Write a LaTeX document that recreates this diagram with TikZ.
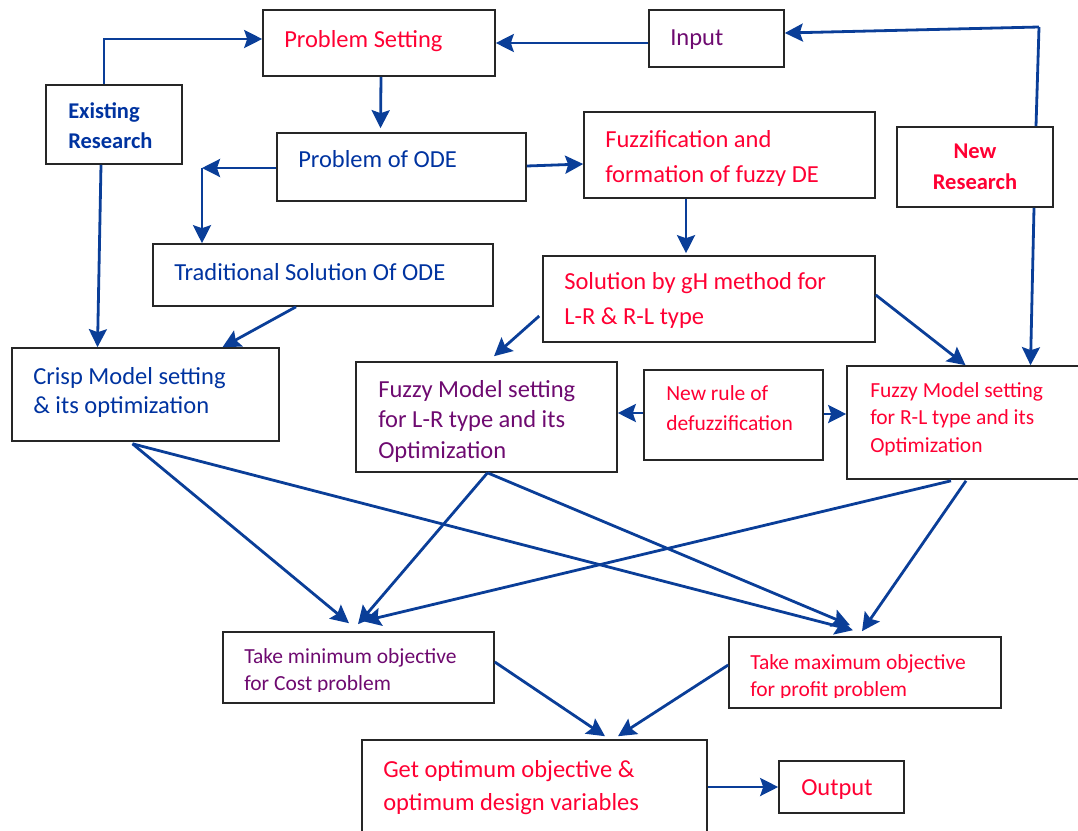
\documentclass[tikz,border=0pt]{standalone}
\usepackage{fontspec}
\setmainfont{Carlito}
\usetikzlibrary{arrows.meta,positioning,calc}
\definecolor{linkblue}{RGB}{10,62,152}
\definecolor{txtblue}{RGB}{0,51,160}
\definecolor{txtred}{RGB}{255,0,51}
\definecolor{txtpurple}{RGB}{110,10,112}
\tikzset{
    >={Stealth[length=18pt,width=18pt,inset=3pt]},
    every picture/.style={line width=0.5pt},
    box/.style={draw=black!85,line width=1.6pt,rectangle,inner sep=0pt},
    lbl/.style={anchor=base west,inner sep=0pt,align=left},
    bigtext/.style={font=\fontsize{24.5}{#1}\selectfont},
    smalltext/.style={font=\fontsize{21.5}{#1}\selectfont},
    boldtext/.style={font=\fontsize{22.5}{#1}\selectfont\bfseries},
    conn/.style={->,draw=linkblue,line width=2.8pt},
    plain/.style={draw=linkblue,line width=2.8pt}
}

\begin{document}
\begin{tikzpicture}[x=1pt,y=-1pt]
    \useasboundingbox (0,0) rectangle (1078,830);

    % boxes
    \node[box,minimum width=232pt,minimum height=66pt] (ps) at (379,43) {};
    \node[box,minimum width=135pt,minimum height=57pt] (inp) at (716.5,38.5) {};
    \node[box,minimum width=136pt,minimum height=79pt] (exr) at (114,124.5) {};
    \node[box,minimum width=249pt,minimum height=68pt] (pode) at (401.5,167) {};
    \node[box,minimum width=291pt,minimum height=86pt] (fuz) at (729.5,155) {};
    \node[box,minimum width=156pt,minimum height=80pt] (nr) at (975,167) {};
    \node[box,minimum width=340pt,minimum height=62pt] (trad) at (323,275) {};
    \node[box,minimum width=332pt,minimum height=86pt] (gh) at (709,299) {};
    \node[box,minimum width=267pt,minimum height=93pt] (crisp) at (145.5,394.5) {};
    \node[box,minimum width=261pt,minimum height=110pt] (flr) at (486.5,417) {};
    \node[box,minimum width=179pt,minimum height=90pt] (rule) at (733.5,415) {};
    \node[box,minimum width=235pt,minimum height=113pt] (frl) at (964.5,422.5) {};
    \node[box,minimum width=271pt,minimum height=71pt] (tmin) at (358.5,667.5) {};
    \node[box,minimum width=272pt,minimum height=71pt] (tmax) at (865,672.5) {};
    \node[box,minimum width=345pt,minimum height=100pt] (opt) at (534.5,790) {};
    \node[box,minimum width=125pt,minimum height=52pt] (out) at (841.5,787) {};

    % texts (base = last line)
    \node[lbl,bigtext=30,text=txtred] (ps-t) at (284,47) {Problem Setting};
    \node[lbl,bigtext=30,text=txtpurple] (inp-t) at (670,45) {Input};
    \node[lbl,boldtext=30.5,text=txtblue] (exr-t) at (68,148.5) {Existing\\Research};
    \node[lbl,bigtext=30,text=txtblue] (pode-t) at (298,167) {Problem of ODE};
    \node[lbl,bigtext=35,text=txtred] (fuz-t) at (605,182) {Fuzzification and\\formation of fuzzy DE};
    \node[anchor=base,inner sep=0pt,align=center,boldtext=31,text=txtred] (nr-t) at (975,189) {New\\Research};
    \node[lbl,bigtext=30,text=txtblue] (trad-t) at (174,280) {Traditional Solution Of ODE};
    \node[lbl,bigtext=35,text=txtred] (gh-t) at (564,324) {Solution by gH method for\\L-R \& R-L type};
    \node[lbl,bigtext=29.5,text=txtblue] (crisp-t) at (33,413.5) {Crisp Model setting\\\& its optimization};
    \node[lbl,bigtext=30.5,text=txtpurple] (flr-t) at (378,458) {Fuzzy Model setting\\for L-R type and its\\Optimization};
    \node[lbl,smalltext=30.5,text=txtred] (rule-t) at (666,430.5) {New rule of\\defuzzification};
    \node[lbl,smalltext=27.5,text=txtred] (frl-t) at (870,452) {Fuzzy Model setting\\for R-L type and its\\Optimization};
    \begin{scope}
        \clip (223,632) rectangle (494,691);
        \node[lbl,smalltext=27,text=txtpurple] (tmin-t) at (244,690) {Take minimum objective\\for Cost problem};
    \end{scope}
    \begin{scope}
        \clip (729,637) rectangle (1001,697);
        \node[lbl,smalltext=27,text=txtred] (tmax-t) at (750,696.5) {Take maximum objective\\for profit problem};
    \end{scope}
    \node[lbl,bigtext=33,text=txtred] (opt-t) at (383,810) {Get optimum objective \&\\optimum design variables};
    \node[lbl,bigtext=30,text=txtred] (out-t) at (801,795) {Output};

    % top connectors
    \coordinate (ne) at (1039,27);
    \coordinate (odel) at (202,168);
    \draw[conn] (inp.west |- ps.east) -- (ps.east);
    \draw[plain] ([xshift=61pt]nr.north) -- (ne);
    \draw[conn] (ne) -- ([yshift=5.5pt]inp.east);
    \draw[conn] ([xshift=59pt]nr.south) -- ([xshift=66pt]frl.north);
    \draw[conn] ([xshift=-10pt]exr.north) |- ([yshift=4pt]ps.west);
    \draw[conn] ([xshift=-13pt]exr.south) -- ([xshift=-48pt]crisp.north);
    \draw[conn] ([xshift=2pt]ps.south) -- ([xshift=-21pt,yshift=4pt]pode.north);
    \draw[conn] ([yshift=-1pt]pode.west) -- (odel);
    \draw[conn] (odel) -- (odel |- trad.north);
    \draw[conn] ([yshift=1pt]pode.east) -- ([yshift=-9pt]fuz.west);
    \draw[conn] ([xshift=-43.5pt]fuz.south) -- ([xshift=-23pt,yshift=2pt]gh.north);

    % middle connectors
    \draw[conn] ([xshift=-27pt]trad.south) -- ([xshift=77pt]crisp.north);
    \draw[conn] ([xshift=-3pt,yshift=-17pt]gh.west) -- ([xshift=7.5pt,yshift=5pt]flr.north);
    \draw[conn] ([yshift=4pt]gh.east) -- ([xshift=1pt]frl.north);
    \draw[conn] ([yshift=2pt]rule.west) -- ([yshift=4pt]flr.east);
    \draw[conn] ([yshift=1pt]rule.east) -- ([yshift=8.5pt]frl.west);

    % to the objectives
    \coordinate (crispout) at ([xshift=-13pt,yshift=-2pt]crisp.south);
    \coordinate (flrout) at ([xshift=1pt]flr.south);
    \coordinate (frlout1) at ([xshift=-13.5pt,yshift=-1pt]frl.south);
    \coordinate (frlout2) at ([xshift=1.5pt,yshift=-1pt]frl.south);
    \draw[conn] (crispout) -- ([xshift=-9.5pt,yshift=8pt]tmin.north);
    \draw[conn] (crispout) -- ([xshift=-12pt,yshift=6pt]tmax.north);
    \draw[conn] (flrout) -- ([xshift=-0.5pt,yshift=7pt]tmin.north);
    \draw[conn] (flrout) -- ([xshift=-15pt,yshift=11pt]tmax.north);
    \draw[conn] (frlout1) -- ([xshift=4.5pt,yshift=10pt]tmin.north);
    \draw[conn] (frlout2) -- ([xshift=-3pt,yshift=5pt]tmax.north);

    % bottom
    \draw[conn] ([yshift=5.5pt]tmin.east) -- ([xshift=70.5pt,yshift=3pt]opt.north);
    \draw[conn] ([yshift=7.5pt]tmax.west) -- ([xshift=83.5pt,yshift=3pt]opt.north);
    \draw[conn] ([yshift=3pt]opt.east) -- (out.west);
\end{tikzpicture}
\end{document}
